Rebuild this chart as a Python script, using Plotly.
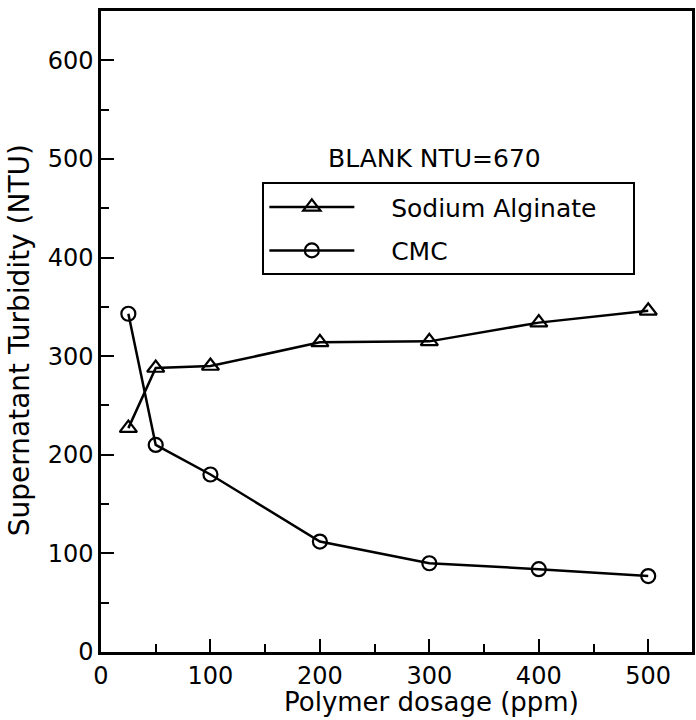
import plotly.graph_objects as go

dosage = [25, 50, 100, 200, 300, 400, 500]
alginate = [227, 288, 290, 314, 315, 334, 346]
cmc = [343, 210, 180, 112, 90, 84, 77]
x_ticks = [0, 100, 200, 300, 400, 500]
y_ticks = [0, 100, 200, 300, 400, 500, 600]

FONT = "DejaVu Sans"
PAD = "\u00a0" * 4
TAIL = "\u00a0" * 4

fig = go.Figure()
fig.add_trace(go.Scatter(
    x=dosage, y=alginate, mode="lines+markers", name=PAD + "Sodium Alginate" + TAIL,
    legendgroup="a",
    line=dict(color="black", width=2.5),
    marker=dict(symbol="triangle-up-open", size=15, color="black", line=dict(width=2.2)),
))
fig.add_trace(go.Scatter(
    x=dosage, y=cmc, mode="lines+markers", name=PAD + "CMC",
    legendgroup="b",
    line=dict(color="black", width=2.5),
    marker=dict(symbol="circle-open", size=14, color="black", line=dict(width=2.2)),
))

axis_common = dict(
    showgrid=False, zeroline=False, showline=True, linecolor="black", linewidth=2.5,
    mirror=True, ticks="inside", ticklen=13, tickwidth=2, tickcolor="black",
    tickfont=dict(family=FONT, size=24, color="black"),
)
fig.update_xaxes(
    range=[0, 540], tickvals=x_ticks,
    minor=dict(ticks="inside", ticklen=8, tickwidth=1.5, tickcolor="black", dtick=50, tick0=0),
    **axis_common,
)
fig.update_yaxes(
    range=[0, 650], tickvals=y_ticks,
    minor=dict(ticks="inside", ticklen=8, tickwidth=1.5, tickcolor="black", dtick=50, tick0=0),
    **axis_common,
)

# axis titles placed as annotations to match the reference offsets
fig.add_annotation(
    x=0.56, y=-0.104, xref="paper", yref="paper", text="Polymer dosage (ppm)",
    showarrow=False, xanchor="center", yanchor="bottom",
    font=dict(family=FONT, size=26, color="black"),
)
fig.add_annotation(
    x=-0.138, y=0.487, xref="paper", yref="paper", text="Supernatant Turbidity (NTU)",
    showarrow=False, textangle=-90, xanchor="center", yanchor="middle",
    font=dict(family=FONT, size=28, color="black"),
)

fig.add_annotation(
    x=305, y=500, xref="x", yref="y", text="BLANK NTU=670", showarrow=False,
    font=dict(family=FONT, size=25, color="black"),
)

fig.update_layout(
    width=696, height=720,
    margin=dict(l=101, r=1, t=11, b=68),
    plot_bgcolor="white", paper_bgcolor="white",
    legend=dict(
        x=0.273, y=0.733, xanchor="left", yanchor="top",
        bordercolor="black", borderwidth=2, bgcolor="white",
        font=dict(family=FONT, size=25, color="black"),
        itemwidth=85, tracegroupgap=8,
    ),
    showlegend=True,
)

fig.write_html("out.html")
